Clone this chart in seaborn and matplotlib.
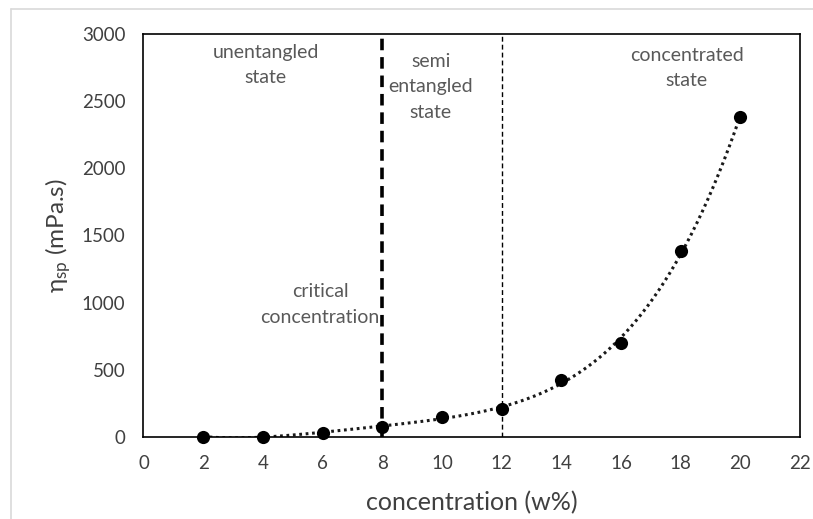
import matplotlib
matplotlib.use("Agg")
import matplotlib.pyplot as plt
from matplotlib.lines import Line2D
import seaborn as sns
import pandas as pd

concentration = [2, 4, 6, 8, 10, 12, 14, 16, 18, 20]
eta_sp = [3, 3, 32, 75, 150, 212, 424, 700, 1387, 2385]
x_ticks = [0, 2, 4, 6, 8, 10, 12, 14, 16, 18, 20, 22]
y_ticks = [0, 500, 1000, 1500, 2000, 2500, 3000]
boundaries = [8, 12]
region_labels = ["unentangled\nstate", "semi\nentangled\nstate", "concentrated\nstate", "critical\nconcentration"]

df = pd.DataFrame({"c": concentration, "eta": eta_sp})

sns.set_style("white")
plt.rcParams["font.family"] = ["Lato", "DejaVu Sans"]

fig = plt.figure(figsize=(8.13, 5.19), dpi=100)
ax = fig.add_axes([0.1765, 0.158, 0.8075, 0.7765])

# trend line (polynomial fit) and markers
sns.regplot(data=df, x="c", y="eta", order=4, ci=None, scatter=False, ax=ax,
            line_kws=dict(color="#1a1a1a", lw=2.2, linestyle=(0, (0.9, 1.2))))
sns.scatterplot(data=df, x="c", y="eta", ax=ax, color="black", s=90,
                edgecolor="black", linewidth=0, zorder=5, clip_on=False)

ax.axvline(boundaries[0], color="black", lw=2.6, linestyle=(0, (3.2, 1.9)), zorder=3)
ax.axvline(boundaries[1], color="black", lw=1.0, linestyle=(0, (3.5, 2.2)), zorder=3)

ax.set_xlim(0, 22)
ax.set_ylim(0, 3000)
ax.set_xticks(x_ticks)
ax.set_yticks(y_ticks)
ax.tick_params(axis="both", direction="in", length=5, width=1, color="black",
               labelsize=13.5, labelcolor="#404040", pad=13)
for sp in ax.spines.values():
    sp.set_color("black")
    sp.set_linewidth(1.2)

ax.set_xlabel("concentration (w%)", fontsize=18, color="#404040", labelpad=14)
ax.set_ylabel(r"$\mathregular{\eta_{sp}}$ (mPa.s)", fontsize=17.5, color="#404040", labelpad=6)

tc = "#595959"
fs = 14
ls = 1.6
ax.text(4.1, 2770, region_labels[0], ha="center", va="center", fontsize=fs, color=tc, linespacing=ls)
ax.text(9.63, 2606, region_labels[1], ha="center", va="center", fontsize=fs, color=tc, linespacing=ls)
ax.text(18.2, 2748, region_labels[2], ha="center", va="center", fontsize=fs, color=tc, linespacing=ls)
ax.text(5.92, 985, region_labels[3], ha="center", va="center", fontsize=fs, color=tc, linespacing=ls)

# light frame of the chart area
fig.add_artist(Line2D([11 / 813, 11 / 813], [0, 1 - 9 / 519], transform=fig.transFigure, color="#d9d9d9", lw=1.2))
fig.add_artist(Line2D([11 / 813, 1], [1 - 9 / 519, 1 - 9 / 519], transform=fig.transFigure, color="#d9d9d9", lw=1.2))

fig.savefig("out.png", dpi=100)
